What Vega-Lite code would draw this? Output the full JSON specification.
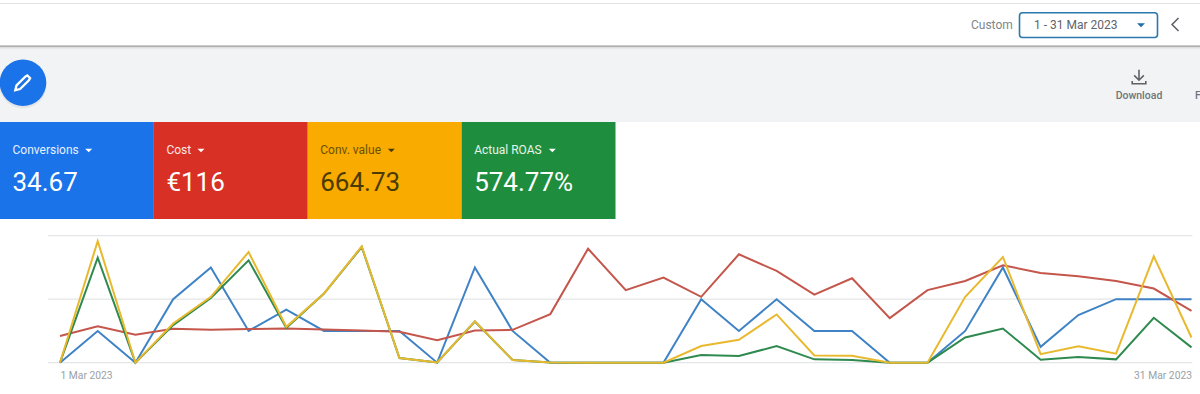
{
"$schema":"https://vega.github.io/schema/vega-lite/v6.json",
"width":1200,"height":394,"padding":0,"autosize":{"type":"none"},"background":"#ffffff",
"config":{"view":{"stroke":null},"text":{"font":"Roboto"}},
"resolve":{"scale":{"x":"independent","y":"independent","color":"independent"}},
"layer":[
{"data":{"values":[{}]},
 "layer":[
 {"mark":{"type":"rect","color":"#f1f3f4"},"encoding":{"x":{"datum":0,"type":"quantitative","axis":null,"scale":{"domain":[0,1200],"range":[0,1200]}},"x2":{"datum":1200},"y":{"datum":47,"type":"quantitative","axis":null,"scale":{"domain":[0,394],"range":[0,394]}},"y2":{"datum":122}}},
 {"mark":{"type":"rule","color":"#e3e3e3","strokeWidth":1},"encoding":{"y":{"datum":3.5,"type":"quantitative","axis":null,"scale":{"domain":[0,394],"range":[0,394]}}}},
 {"mark":{"type":"rule","color":"#dcdee0","strokeWidth":2},"encoding":{"y":{"datum":47.5,"type":"quantitative","axis":null,"scale":{"domain":[0,394],"range":[0,394]}}}},
 {"mark":{"type":"rule","color":"#9a9a9a","strokeWidth":1.3},"encoding":{"y":{"datum":46.2,"type":"quantitative","axis":null,"scale":{"domain":[0,394],"range":[0,394]}}}},
 {"mark":{"type":"rect","color":"#ffffff","stroke":"#2a78ad","strokeWidth":1.6,"cornerRadius":3},"encoding":{"x":{"datum":1019.5,"type":"quantitative","axis":null,"scale":{"domain":[0,1200],"range":[0,1200]}},"x2":{"datum":1157.5},"y":{"datum":12.7,"type":"quantitative","axis":null,"scale":{"domain":[0,394],"range":[0,394]}},"y2":{"datum":37.5}}},
 {"mark":{"type":"text","text":"Custom","align":"left","baseline":"middle","fontSize":12,"color":"#80868b"},"encoding":{"x":{"datum":971,"type":"quantitative","axis":null,"scale":{"domain":[0,1200],"range":[0,1200]}},"y":{"datum":25.3,"type":"quantitative","axis":null,"scale":{"domain":[0,394],"range":[0,394]}}}},
 {"mark":{"type":"text","text":"1 - 31 Mar 2023","align":"left","baseline":"middle","fontSize":12,"color":"#5f6368"},"encoding":{"x":{"datum":1034,"type":"quantitative","axis":null,"scale":{"domain":[0,1200],"range":[0,1200]}},"y":{"datum":25.3,"type":"quantitative","axis":null,"scale":{"domain":[0,394],"range":[0,394]}}}},
 {"mark":{"type":"point","shape":"M-1,-0.5L1,-0.5L0,0.5Z","filled":true,"size":64,"opacity":1,"color":"#1f6fa8"},"encoding":{"x":{"datum":1141,"type":"quantitative","axis":null,"scale":{"domain":[0,1200],"range":[0,1200]}},"y":{"datum":25.3,"type":"quantitative","axis":null,"scale":{"domain":[0,394],"range":[0,394]}}}},
 {"mark":{"type":"point","shape":"M0.5,-1L-0.5,0L0.5,1","filled":false,"size":169,"opacity":1,"stroke":"#5f6368","strokeWidth":1.6},"encoding":{"x":{"datum":1175.3,"type":"quantitative","axis":null,"scale":{"domain":[0,1200],"range":[0,1200]}},"y":{"datum":24.5,"type":"quantitative","axis":null,"scale":{"domain":[0,394],"range":[0,394]}}}},
 {"mark":{"type":"point","shape":"circle","filled":true,"size":2250,"opacity":0.5,"color":"#d5d8dc"},"encoding":{"x":{"datum":23,"type":"quantitative","axis":null,"scale":{"domain":[0,1200],"range":[0,1200]}},"y":{"datum":84.5,"type":"quantitative","axis":null,"scale":{"domain":[0,394],"range":[0,394]}}}},
 {"mark":{"type":"point","shape":"circle","filled":true,"size":2170,"opacity":1,"color":"#1a73e8"},"encoding":{"x":{"datum":23,"type":"quantitative","axis":null,"scale":{"domain":[0,1200],"range":[0,1200]}},"y":{"datum":82.7,"type":"quantitative","axis":null,"scale":{"domain":[0,394],"range":[0,394]}}}},
 {"mark":{"type":"point","shape":"M-0.9,0.9L-0.75,0.3L0.35,-0.8L0.6,-0.95L0.95,-0.6L0.8,-0.35L-0.3,0.75Z","filled":false,"size":256,"opacity":1,"stroke":"#ffffff","strokeWidth":2.3},"encoding":{"x":{"datum":22.5,"type":"quantitative","axis":null,"scale":{"domain":[0,1200],"range":[0,1200]}},"y":{"datum":83,"type":"quantitative","axis":null,"scale":{"domain":[0,394],"range":[0,394]}}}},
 {"mark":{"type":"point","shape":"M0,-0.9L0,0.3M-0.6,-0.2L0,0.4L0.6,-0.2M-0.85,0.5L-0.85,0.85L0.85,0.85L0.85,0.5","filled":false,"size":256,"opacity":1,"stroke":"#5f6368","strokeWidth":1.6},"encoding":{"x":{"datum":1139,"type":"quantitative","axis":null,"scale":{"domain":[0,1200],"range":[0,1200]}},"y":{"datum":77,"type":"quantitative","axis":null,"scale":{"domain":[0,394],"range":[0,394]}}}},
 {"mark":{"type":"text","text":"Download","align":"center","baseline":"middle","fontSize":10.5,"fontWeight":500,"color":"#70757a"},"encoding":{"x":{"datum":1139,"type":"quantitative","axis":null,"scale":{"domain":[0,1200],"range":[0,1200]}},"y":{"datum":96,"type":"quantitative","axis":null,"scale":{"domain":[0,394],"range":[0,394]}}}},
 {"mark":{"type":"text","text":"F","align":"left","baseline":"middle","fontSize":10.5,"fontWeight":500,"color":"#70757a"},"encoding":{"x":{"datum":1195,"type":"quantitative","axis":null,"scale":{"domain":[0,1200],"range":[0,1200]}},"y":{"datum":96,"type":"quantitative","axis":null,"scale":{"domain":[0,394],"range":[0,394]}}}}
 ]},
{"data":{"values":[{"metric":"Conversions","total":"34.67"},{"metric":"Cost","total":"€116"},{"metric":"Conv. value","total":"664.73"},{"metric":"Actual ROAS","total":"574.77%"}]},
 "resolve":{"scale":{"color":"independent"}},
 "encoding":{"x":{"field":"metric","type":"nominal","sort":null,"axis":null,"bandPosition":0,"scale":{"type":"band","domain":["Conversions","Cost","Conv. value","Actual ROAS"],"range":[0,615.5],"paddingInner":0,"paddingOuter":0}}},
 "layer":[
 {"mark":{"type":"rect"},"encoding":{"x":{"field":"metric","type":"nominal","sort":null,"axis":null,"scale":{"type":"band","domain":["Conversions","Cost","Conv. value","Actual ROAS"],"range":[0,615.5],"paddingInner":0,"paddingOuter":0}},"y":{"datum":122,"type":"quantitative","axis":null,"scale":{"domain":[0,394],"range":[0,394]}},"y2":{"datum":219},"color":{"field":"metric","type":"nominal","legend":null,"scale":{"domain":["Conversions","Cost","Conv. value","Actual ROAS"],"range":["#1a73e8","#d93025","#f9ab00","#1e8e3e"]}}}},
 {"mark":{"type":"text","align":"left","baseline":"middle","dx":12.5,"fontSize":12},"encoding":{"text":{"field":"metric"},"y":{"datum":150,"type":"quantitative","axis":null,"scale":{"domain":[0,394],"range":[0,394]}},"color":{"field":"metric","type":"nominal","legend":null,"scale":{"domain":["Conversions","Cost","Conv. value","Actual ROAS"],"range":["#e8f0fe","#fce8e6","#6b5200","#e6f4ea"]}}}},
 {"mark":{"type":"text","align":"left","baseline":"middle","dx":12.5,"fontSize":26},"encoding":{"text":{"field":"total"},"y":{"datum":182.5,"type":"quantitative","axis":null,"scale":{"domain":[0,394],"range":[0,394]}},"color":{"field":"metric","type":"nominal","legend":null,"scale":{"domain":["Conversions","Cost","Conv. value","Actual ROAS"],"range":["#ffffff","#ffffff","#4a3b00","#ffffff"]}}}}
 ]},
{"data":{"values":[{}]},
 "layer":[
 {"mark":{"type":"point","shape":"M-1,-0.5L1,-0.5L0,0.5Z","filled":true,"size":49,"opacity":1,"color":"#ffffff"},"encoding":{"x":{"datum":88.7,"type":"quantitative","axis":null,"scale":{"domain":[0,1200],"range":[0,1200]}},"y":{"datum":150.5,"type":"quantitative","axis":null,"scale":{"domain":[0,394],"range":[0,394]}}}},
 {"mark":{"type":"point","shape":"M-1,-0.5L1,-0.5L0,0.5Z","filled":true,"size":49,"opacity":1,"color":"#ffffff"},"encoding":{"x":{"datum":201,"type":"quantitative","axis":null,"scale":{"domain":[0,1200],"range":[0,1200]}},"y":{"datum":150.5,"type":"quantitative","axis":null,"scale":{"domain":[0,394],"range":[0,394]}}}},
 {"mark":{"type":"point","shape":"M-1,-0.5L1,-0.5L0,0.5Z","filled":true,"size":49,"opacity":1,"color":"#4a3b00"},"encoding":{"x":{"datum":391.3,"type":"quantitative","axis":null,"scale":{"domain":[0,1200],"range":[0,1200]}},"y":{"datum":150.5,"type":"quantitative","axis":null,"scale":{"domain":[0,394],"range":[0,394]}}}},
 {"mark":{"type":"point","shape":"M-1,-0.5L1,-0.5L0,0.5Z","filled":true,"size":49,"opacity":1,"color":"#ffffff"},"encoding":{"x":{"datum":552.3,"type":"quantitative","axis":null,"scale":{"domain":[0,1200],"range":[0,1200]}},"y":{"datum":150.5,"type":"quantitative","axis":null,"scale":{"domain":[0,394],"range":[0,394]}}}}
 ]},
{"data":{"values":[{"gridline":0,"from":"2023-02-28T16:22:00Z","to":"2023-03-31T00:30:00Z"},{"gridline":2,"from":"2023-02-28T16:22:00Z","to":"2023-03-31T00:30:00Z"},{"gridline":4,"from":"2023-02-28T16:22:00Z","to":"2023-03-31T00:30:00Z"}]},
 "mark":{"type":"rule","color":"#e4e5e6","strokeWidth":1.2},
 "encoding":{"x":{"field":"from","type":"temporal","axis":null,"scale":{"type":"utc","domain":[1677628800000,1680220800000],"range":[60,1191.5]}},"x2":{"field":"to"},"y":{"field":"gridline","type":"quantitative","axis":null,"scale":{"domain":[0,4],"range":[362.7,235.7]}}}},
{"data":{"values":[
{"date":"2023-03-01","conversions":0,"cost":1.68,"convValue":0,"roas":0},
{"date":"2023-03-02","conversions":1,"cost":2.30,"convValue":76.6,"roas":3310},
{"date":"2023-03-03","conversions":0,"cost":1.76,"convValue":0,"roas":0},
{"date":"2023-03-04","conversions":2,"cost":2.14,"convValue":24.7,"roas":1183},
{"date":"2023-03-05","conversions":3,"cost":2.07,"convValue":41.5,"roas":2042},
{"date":"2023-03-06","conversions":1,"cost":2.12,"convValue":69.7,"roas":3225},
{"date":"2023-03-07","conversions":1.67,"cost":2.16,"convValue":22.6,"roas":1099},
{"date":"2023-03-08","conversions":1,"cost":2.09,"convValue":43.6,"roas":2178},
{"date":"2023-03-09","conversions":1,"cost":2.03,"convValue":73.3,"roas":3644},
{"date":"2023-03-10","conversions":1,"cost":1.95,"convValue":2.9,"roas":147},
{"date":"2023-03-11","conversions":0,"cost":1.42,"convValue":0.2,"roas":10},
{"date":"2023-03-12","conversions":3,"cost":2.03,"convValue":26,"roas":1298},
{"date":"2023-03-13","conversions":1,"cost":2.07,"convValue":1.7,"roas":84},
{"date":"2023-03-14","conversions":0,"cost":3.06,"convValue":0.2,"roas":10},
{"date":"2023-03-15","conversions":0,"cost":7.18,"convValue":0,"roas":0},
{"date":"2023-03-16","conversions":0,"cost":4.57,"convValue":0,"roas":0},
{"date":"2023-03-17","conversions":0,"cost":5.36,"convValue":0,"roas":0},
{"date":"2023-03-18","conversions":2,"cost":4.15,"convValue":10.5,"roas":241},
{"date":"2023-03-19","conversions":1,"cost":6.83,"convValue":14.4,"roas":209},
{"date":"2023-03-20","conversions":2,"cost":5.78,"convValue":30.4,"roas":524},
{"date":"2023-03-21","conversions":1,"cost":4.29,"convValue":4.6,"roas":105},
{"date":"2023-03-22","conversions":1,"cost":5.32,"convValue":4.4,"roas":84},
{"date":"2023-03-23","conversions":0,"cost":2.81,"convValue":0,"roas":0},
{"date":"2023-03-24","conversions":0,"cost":4.57,"convValue":0,"roas":0},
{"date":"2023-03-25","conversions":1,"cost":5.15,"convValue":41.5,"roas":796},
{"date":"2023-03-26","conversions":3,"cost":6.14,"convValue":66.6,"roas":1078},
{"date":"2023-03-27","conversions":0.5,"cost":5.65,"convValue":5.4,"roas":94},
{"date":"2023-03-28","conversions":1.5,"cost":5.45,"convValue":10.3,"roas":178},
{"date":"2023-03-29","conversions":2,"cost":5.15,"convValue":5.7,"roas":105},
{"date":"2023-03-30","conversions":2,"cost":4.67,"convValue":67,"roas":1413},
{"date":"2023-03-31","conversions":2,"cost":3.27,"convValue":15.9,"roas":482}
]},
 "resolve":{"scale":{"y":"independent"}},
 "encoding":{"x":{"field":"date","type":"temporal","title":null,"scale":{"type":"utc","domain":[1677628800000,1680220800000],"range":[60,1191.5]},
   "axis":{"values":[1677628800000,1680220800000],"format":"%-d %b %Y","offset":-31.3,"domain":false,"ticks":false,"grid":false,"labelFont":"Roboto","labelFontSize":10.3,"labelColor":"#9aa0a6","labelPadding":8,"labelFlush":false,"labelOverlap":false,"labelAlign":{"expr":"datum.value < 1680000000000 ? 'left' : 'right'"}}}},
 "layer":[
 {"mark":{"type":"line","color":"#3f83c6","strokeWidth":2},"encoding":{"y":{"field":"conversions","type":"quantitative","axis":null,"scale":{"domain":[0,4],"range":[362.7,235.7]}}}},
 {"mark":{"type":"line","color":"#c4564b","strokeWidth":2},"encoding":{"y":{"field":"cost","type":"quantitative","axis":null,"scale":{"domain":[0,8],"range":[362.7,235.7]}}}},
 {"mark":{"type":"line","color":"#2f8a4f","strokeWidth":2},"encoding":{"y":{"field":"roas","type":"quantitative","axis":null,"scale":{"domain":[0,4000],"range":[362.7,235.7]}}}},
 {"mark":{"type":"line","color":"#e8b92f","strokeWidth":2},"encoding":{"y":{"field":"convValue","type":"quantitative","axis":null,"scale":{"domain":[0,80],"range":[362.7,235.7]}}}}
 ]}
]
}
